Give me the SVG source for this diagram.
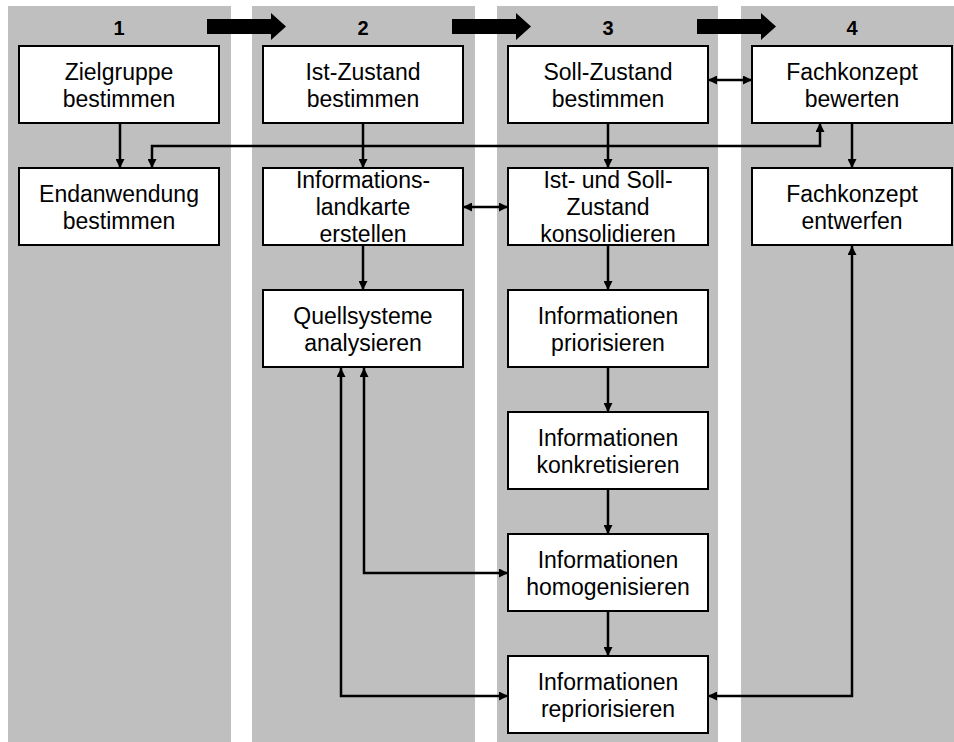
<svg xmlns="http://www.w3.org/2000/svg" width="954" height="742" viewBox="0 0 954 742">
  <style>
    .band { fill: #bfbfbf; }
    .box { fill: #ffffff; stroke: #000000; stroke-width: 2; }
    .lbl { font-family: "Liberation Sans", Arial, sans-serif; font-size: 23px; fill: #000000; text-anchor: middle; }
    .num { font-family: "Liberation Sans", Arial, sans-serif; font-size: 20px; font-weight: bold; fill: #000000; text-anchor: middle; }
    .conn { fill: none; stroke: #000000; stroke-width: 2.5; }
    .one { marker-end: url(#head); }
    .two { marker-start: url(#head); marker-end: url(#head); }
  </style>
  <defs>
    <marker id="head" viewBox="0 0 10 10" refX="10" refY="5" markerWidth="10" markerHeight="9" markerUnits="userSpaceOnUse" orient="auto-start-reverse">
      <path d="M0,0 L10,5 L0,10 z" fill="#000000"/>
    </marker>
    <polygon id="phase-arrow" points="207,19 271,19 271,13 286,26.5 271,40 271,34 207,34" fill="#000000"/>
  </defs>

  <!-- phase columns -->
  <g id="phases">
    <rect class="band" x="8" y="6" width="223" height="736"/>
    <rect class="band" x="252" y="6" width="223" height="736"/>
    <rect class="band" x="497" y="6" width="221" height="736"/>
    <rect class="band" x="741" y="6" width="213" height="736"/>
    <text class="num" x="119" y="35">1</text>
    <text class="num" x="363" y="35">2</text>
    <text class="num" x="608" y="35">3</text>
    <text class="num" x="852" y="35">4</text>
    <use href="#phase-arrow"/>
    <use href="#phase-arrow" transform="translate(245,0)"/>
    <use href="#phase-arrow" transform="translate(490,0)"/>
  </g>

  <!-- connectors -->
  <g id="connectors">
    <path class="conn one" d="M120,123 V168"/>
    <path class="conn two" d="M820,123 V146 H152 V168"/>
    <path class="conn one" d="M363,123 V168"/>
    <path class="conn one" d="M608,123 V168"/>
    <path class="conn one" d="M852,123 V168"/>
    <path class="conn two" d="M708,80 H752"/>
    <path class="conn two" d="M463,207 H508"/>
    <path class="conn one" d="M363,246 V290"/>
    <path class="conn one" d="M608,246 V290"/>
    <path class="conn one" d="M608,368 V412"/>
    <path class="conn one" d="M608,490 V534"/>
    <path class="conn one" d="M608,612 V656"/>
    <path class="conn two" d="M364,368 V573 H508"/>
    <path class="conn two" d="M341,368 V696 H508"/>
    <path class="conn two" d="M852,246 V696 H708"/>
  </g>

  <!-- phase 1 -->
  <g id="zielgruppe">
    <rect class="box" x="19" y="46" width="200" height="77"/>
    <text class="lbl" x="119" y="80">Zielgruppe</text>
    <text class="lbl" x="119" y="107">bestimmen</text>
  </g>
  <g id="endanwendung">
    <rect class="box" x="19" y="168" width="200" height="77"/>
    <text class="lbl" x="119" y="202">Endanwendung</text>
    <text class="lbl" x="119" y="229">bestimmen</text>
  </g>

  <!-- phase 2 -->
  <g id="ist-zustand">
    <rect class="box" x="263" y="46" width="200" height="77"/>
    <text class="lbl" x="363" y="80">Ist-Zustand</text>
    <text class="lbl" x="363" y="107">bestimmen</text>
  </g>
  <g id="informationslandkarte">
    <rect class="box" x="263" y="168" width="200" height="77"/>
    <text class="lbl" x="363" y="188">Informations-</text>
    <text class="lbl" x="363" y="215">landkarte</text>
    <text class="lbl" x="363" y="242">erstellen</text>
  </g>
  <g id="quellsysteme">
    <rect class="box" x="263" y="290" width="200" height="77"/>
    <text class="lbl" x="363" y="324">Quellsysteme</text>
    <text class="lbl" x="363" y="351">analysieren</text>
  </g>

  <!-- phase 3 -->
  <g id="soll-zustand">
    <rect class="box" x="508" y="46" width="200" height="77"/>
    <text class="lbl" x="608" y="80">Soll-Zustand</text>
    <text class="lbl" x="608" y="107">bestimmen</text>
  </g>
  <g id="konsolidieren">
    <rect class="box" x="508" y="168" width="200" height="77"/>
    <text class="lbl" x="608" y="188">Ist- und Soll-</text>
    <text class="lbl" x="608" y="215">Zustand</text>
    <text class="lbl" x="608" y="242">konsolidieren</text>
  </g>
  <g id="priorisieren">
    <rect class="box" x="508" y="290" width="200" height="77"/>
    <text class="lbl" x="608" y="324">Informationen</text>
    <text class="lbl" x="608" y="351">priorisieren</text>
  </g>
  <g id="konkretisieren">
    <rect class="box" x="508" y="412" width="200" height="77"/>
    <text class="lbl" x="608" y="446">Informationen</text>
    <text class="lbl" x="608" y="473">konkretisieren</text>
  </g>
  <g id="homogenisieren">
    <rect class="box" x="508" y="534" width="200" height="77"/>
    <text class="lbl" x="608" y="568">Informationen</text>
    <text class="lbl" x="608" y="595">homogenisieren</text>
  </g>
  <g id="repriorisieren">
    <rect class="box" x="508" y="656" width="200" height="77"/>
    <text class="lbl" x="608" y="690">Informationen</text>
    <text class="lbl" x="608" y="717">repriorisieren</text>
  </g>

  <!-- phase 4 -->
  <g id="fachkonzept-bewerten">
    <rect class="box" x="752" y="46" width="200" height="77"/>
    <text class="lbl" x="852" y="80">Fachkonzept</text>
    <text class="lbl" x="852" y="107">bewerten</text>
  </g>
  <g id="fachkonzept-entwerfen">
    <rect class="box" x="752" y="168" width="200" height="77"/>
    <text class="lbl" x="852" y="202">Fachkonzept</text>
    <text class="lbl" x="852" y="229">entwerfen</text>
  </g>
</svg>
